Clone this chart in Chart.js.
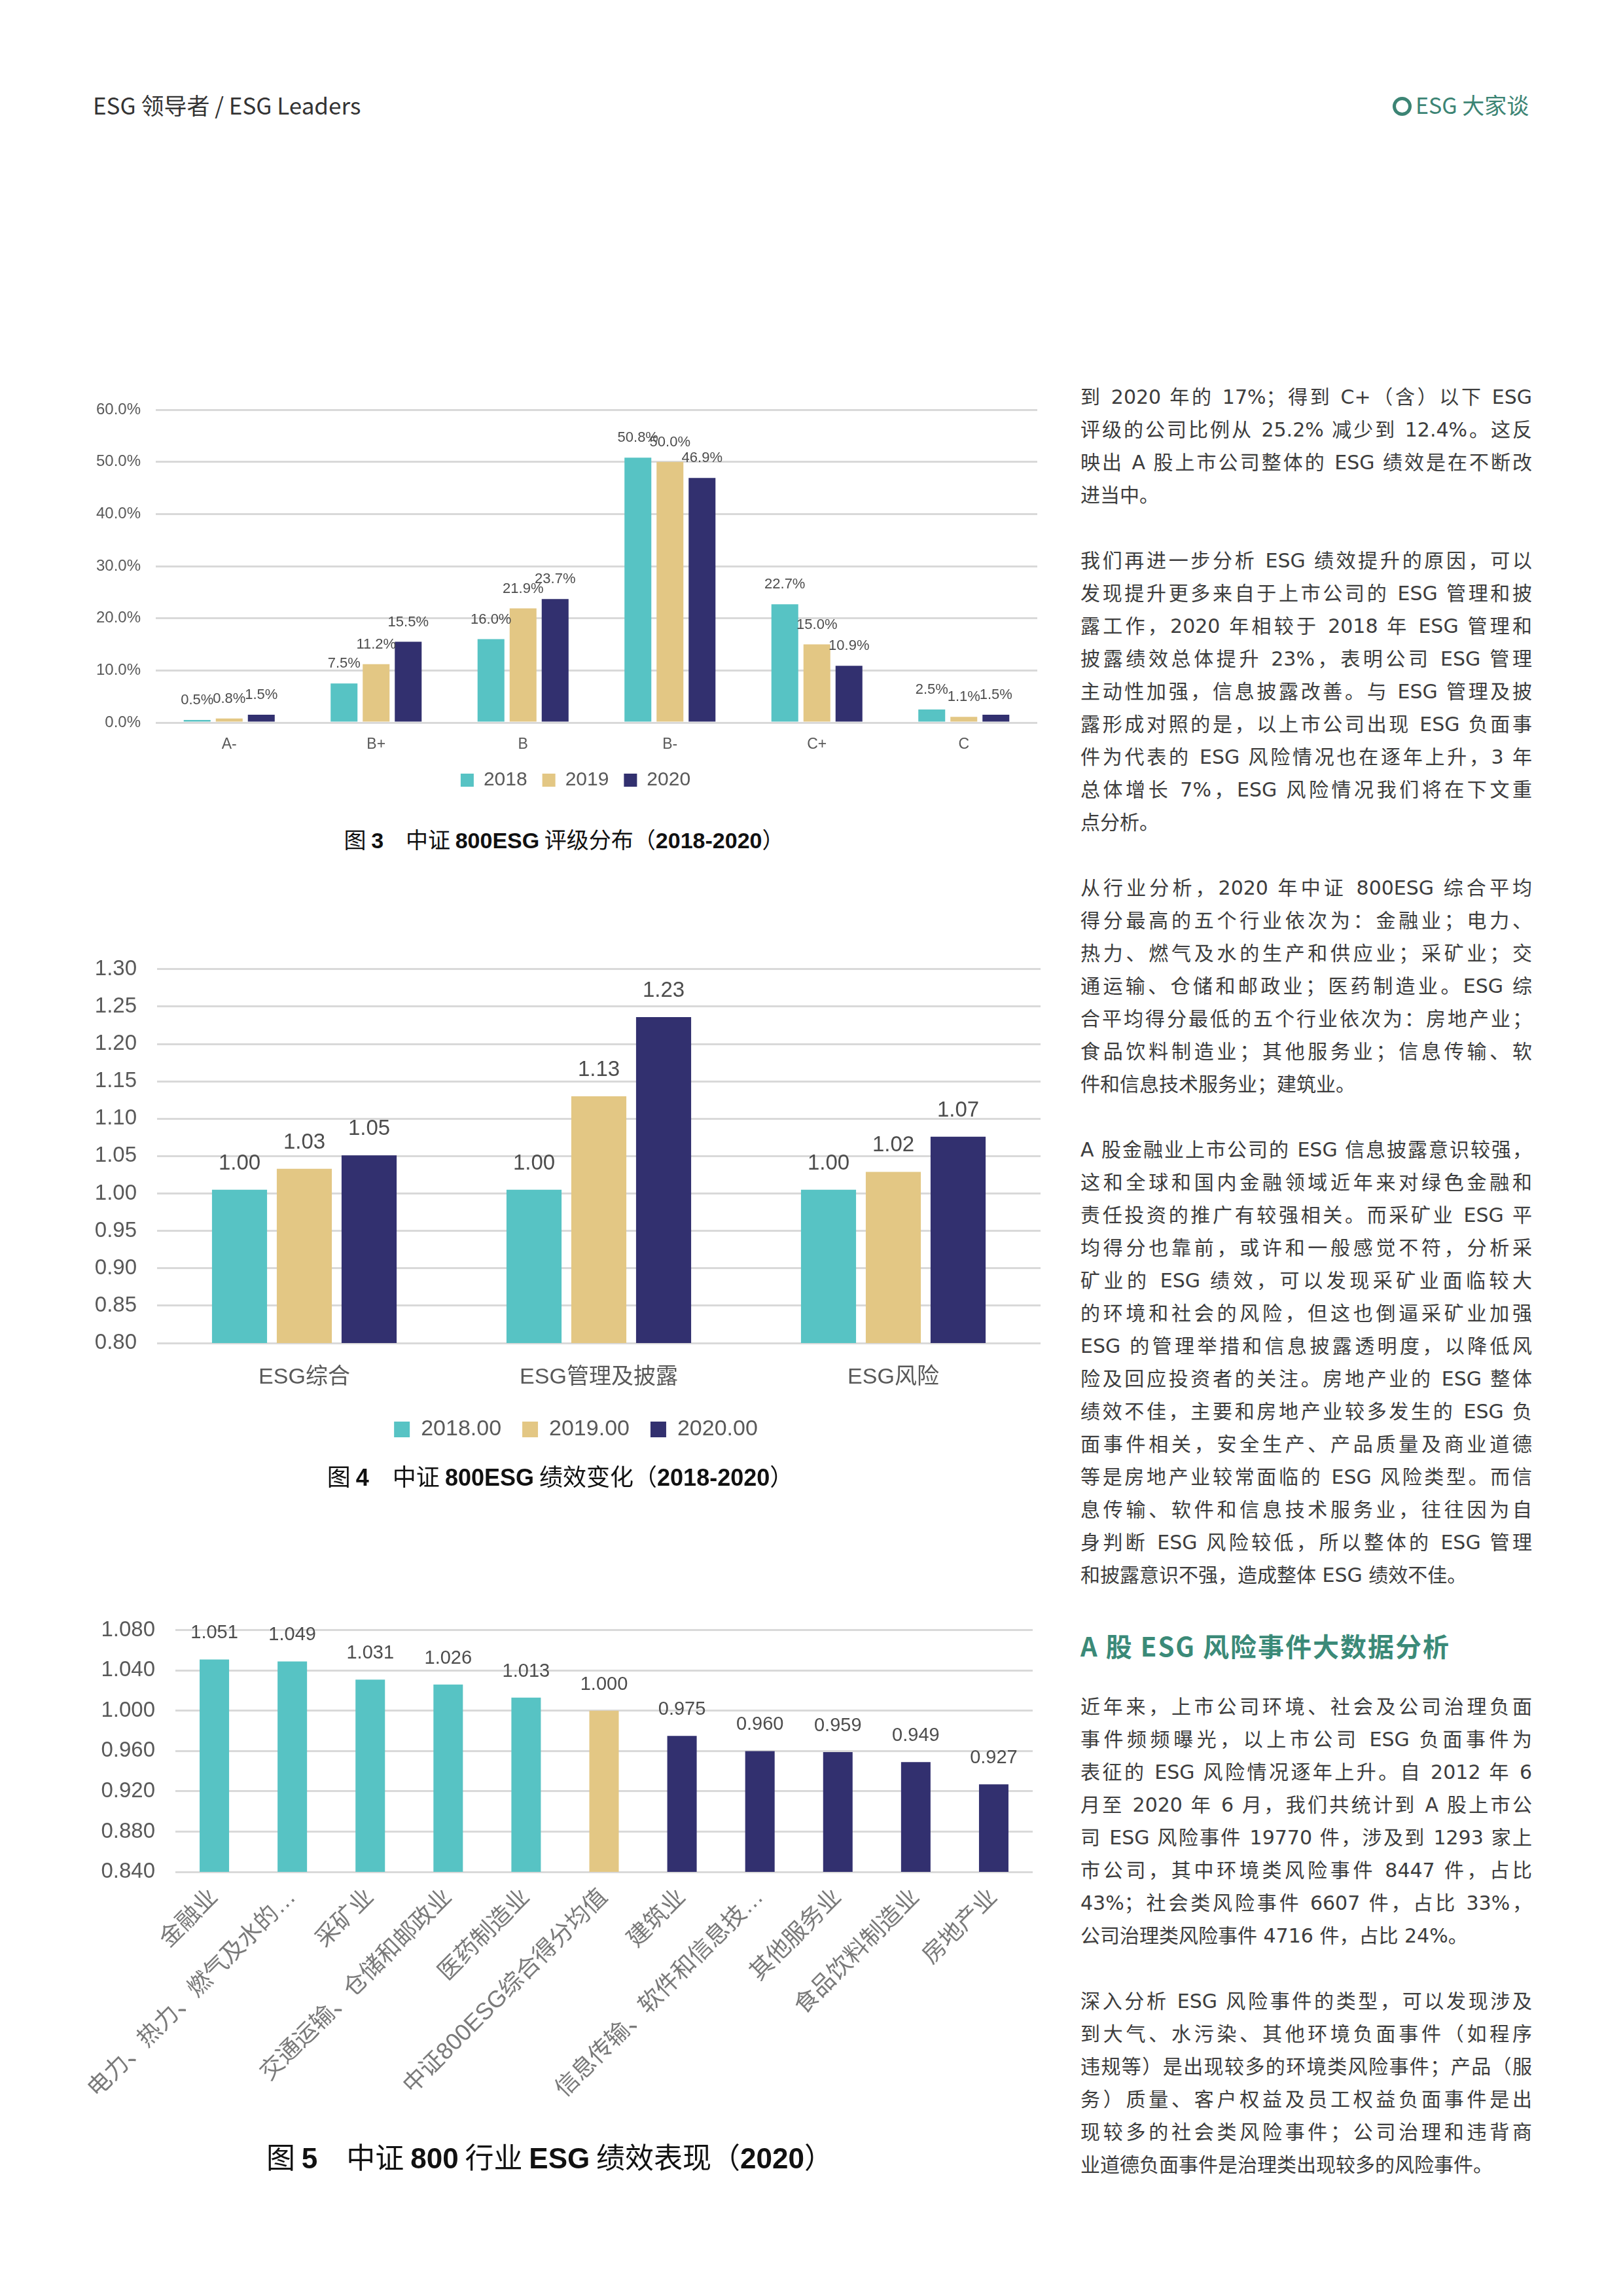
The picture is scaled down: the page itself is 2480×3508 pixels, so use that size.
<!DOCTYPE html>
<html lang="zh-CN">
<head>
<meta charset="utf-8">
<title>ESG 领导者 / ESG Leaders</title>
<script src="https://cdn.jsdelivr.net/npm/chart.js@4.4.0/dist/chart.umd.min.js"></script>
<style>
  html, body { margin: 0; padding: 0; background: #fff; }
  #page { position: relative; width: 2480px; height: 3508px; overflow: hidden; font-family: 'Noto Sans CJK SC', sans-serif; color: #3a3a3a; }
  canvas { position: absolute; }
  .hdr { position: absolute; top: 137px; font-size: 35px; line-height: 46px; white-space: nowrap; }
  .hdr.left { left: 142px; color: #333; }
  .hdr.right { left: 2128px; color: #3c8474; font-size: 34px; }
  .ring { display: inline-block; width: 19px; height: 19px; border: 5px solid #3c8474; border-radius: 50%; vertical-align: -3px; margin-right: 6px; }
  .cap { position: absolute; width: 1400px; text-align: center; color: #111; white-space: nowrap; }
  .cap b { font-family: 'Liberation Sans Narrow', 'Liberation Sans', sans-serif; font-weight: 700; }
  .para { position: absolute; left: 1651px; width: 690px; font-size: 30px; font-family: 'DejaVu Sans', 'Noto Sans CJK SC', sans-serif; color: #3d3d3d; }
  .para div { height: 50px; line-height: 50px; }
  .para .j { text-align: justify; text-align-last: justify; }
  .head { position: absolute; left: 1651px; top: 2486px; font-size: 40px; line-height: 56px; font-weight: 700; color: #3b8a78; letter-spacing: 2px; white-space: nowrap; }
</style>
</head>
<body>
<div id="page">
  <div class="hdr left">ESG 领导者 / ESG Leaders</div>
  <div class="hdr right"><span class="ring"></span>ESG 大家谈</div>

  <canvas id="gradeChart" style="left:130px; top:560px;" width="1455" height="680"></canvas>
  <div class="cap" style="left:162px; top:1258px; font-size:34px; line-height:48px;">图 <b>3</b>&emsp;中证 <b>800ESG</b> 评级分布（<b>2018-2020</b>）</div>

  <canvas id="scoreChart" style="left:130px; top:1430px;" width="1460" height="808"></canvas>
  <div class="cap" style="left:156px; top:2230px; font-size:36px; line-height:48px;">图 <b>4</b>&emsp;中证 <b>800ESG</b> 绩效变化（<b>2018-2020</b>）</div>

  <canvas id="industryChart" style="left:120px; top:2440px;" width="1480" height="830"></canvas>
  <div class="cap" style="left:140px; top:3264px; font-size:44px; line-height:60px;">图 <b>5</b>&emsp;中证 <b>800</b> 行业 <b>ESG</b> 绩效表现（<b>2020</b>）</div>

  <div class="para" style="top:582px;">
    <div class="j">到 2020 年的 17%；得到 C+（含）以下 ESG</div>
    <div class="j">评级的公司比例从 25.2% 减少到 12.4%。这反</div>
    <div class="j">映出 A 股上市公司整体的 ESG 绩效是在不断改</div>
    <div>进当中。</div>
  </div>
  <div class="para" style="top:832px;">
    <div class="j">我们再进一步分析 ESG 绩效提升的原因，可以</div>
    <div class="j">发现提升更多来自于上市公司的 ESG 管理和披</div>
    <div class="j">露工作，2020 年相较于 2018 年 ESG 管理和</div>
    <div class="j">披露绩效总体提升 23%，表明公司 ESG 管理</div>
    <div class="j">主动性加强，信息披露改善。与 ESG 管理及披</div>
    <div class="j">露形成对照的是，以上市公司出现 ESG 负面事</div>
    <div class="j">件为代表的 ESG 风险情况也在逐年上升，3 年</div>
    <div class="j">总体增长 7%，ESG 风险情况我们将在下文重</div>
    <div>点分析。</div>
  </div>
  <div class="para" style="top:1332px;">
    <div class="j">从行业分析，2020 年中证 800ESG 综合平均</div>
    <div class="j">得分最高的五个行业依次为：金融业；电力、</div>
    <div class="j">热力、燃气及水的生产和供应业；采矿业；交</div>
    <div class="j">通运输、仓储和邮政业；医药制造业。ESG 综</div>
    <div class="j">合平均得分最低的五个行业依次为：房地产业；</div>
    <div class="j">食品饮料制造业；其他服务业；信息传输、软</div>
    <div>件和信息技术服务业；建筑业。</div>
  </div>
  <div class="para" style="top:1732px;">
    <div class="j">A 股金融业上市公司的 ESG 信息披露意识较强，</div>
    <div class="j">这和全球和国内金融领域近年来对绿色金融和</div>
    <div class="j">责任投资的推广有较强相关。而采矿业 ESG 平</div>
    <div class="j">均得分也靠前，或许和一般感觉不符，分析采</div>
    <div class="j">矿业的 ESG 绩效，可以发现采矿业面临较大</div>
    <div class="j">的环境和社会的风险，但这也倒逼采矿业加强</div>
    <div class="j">ESG 的管理举措和信息披露透明度，以降低风</div>
    <div class="j">险及回应投资者的关注。房地产业的 ESG 整体</div>
    <div class="j">绩效不佳，主要和房地产业较多发生的 ESG 负</div>
    <div class="j">面事件相关，安全生产、产品质量及商业道德</div>
    <div class="j">等是房地产业较常面临的 ESG 风险类型。而信</div>
    <div class="j">息传输、软件和信息技术服务业，往往因为自</div>
    <div class="j">身判断 ESG 风险较低，所以整体的 ESG 管理</div>
    <div>和披露意识不强，造成整体 ESG 绩效不佳。</div>
  </div>
  <div class="head">A 股 ESG 风险事件大数据分析</div>
  <div class="para" style="top:2583px;">
    <div class="j">近年来，上市公司环境、社会及公司治理负面</div>
    <div class="j">事件频频曝光，以上市公司 ESG 负面事件为</div>
    <div class="j">表征的 ESG 风险情况逐年上升。自 2012 年 6</div>
    <div class="j">月至 2020 年 6 月，我们共统计到 A 股上市公</div>
    <div class="j">司 ESG 风险事件 19770 件，涉及到 1293 家上</div>
    <div class="j">市公司，其中环境类风险事件 8447 件，占比</div>
    <div class="j">43%；社会类风险事件 6607 件，占比 33%，</div>
    <div>公司治理类风险事件 4716 件，占比 24%。</div>
  </div>
  <div class="para" style="top:3033px;">
    <div class="j">深入分析 ESG 风险事件的类型，可以发现涉及</div>
    <div class="j">到大气、水污染、其他环境负面事件（如程序</div>
    <div class="j">违规等）是出现较多的环境类风险事件；产品（服</div>
    <div class="j">务）质量、客户权益及员工权益负面事件是出</div>
    <div class="j">现较多的社会类风险事件；公司治理和违背商</div>
    <div>业道德负面事件是治理类出现较多的风险事件。</div>
  </div>
</div>

<script>
// ---- 图3 评级分布 ----
const gradeLabels = ['A-', 'B+', 'B', 'B-', 'C+', 'C'];
const gradeYears = ['2018', '2019', '2020'];
const grade2018 = [0.5, 7.5, 16.0, 50.8, 22.7, 2.5];
const grade2019 = [0.8, 11.2, 21.9, 50.0, 15.0, 1.1];
const grade2020 = [1.5, 15.5, 23.7, 46.9, 10.9, 1.5];
const gradeTicks = [0, 10, 20, 30, 40, 50, 60];

// ---- 图4 绩效变化 ----
const scoreLabels = ['ESG综合', 'ESG管理及披露', 'ESG风险'];
const scoreYears = ['2018.00', '2019.00', '2020.00'];
const score2018 = [1.005, 1.005, 1.005];
const score2019 = [1.033, 1.130, 1.029];
const score2020 = [1.051, 1.236, 1.076];
const score2018Text = ['1.00', '1.00', '1.00'];
const score2019Text = ['1.03', '1.13', '1.02'];
const score2020Text = ['1.05', '1.23', '1.07'];
const scoreTicks = [0.80, 0.85, 0.90, 0.95, 1.00, 1.05, 1.10, 1.15, 1.20, 1.25, 1.30];

// ---- 图5 行业表现 ----
const industryLabels = ['金融业', '电力、热力、燃气及水的…', '采矿业', '交通运输、仓储和邮政业', '医药制造业',
  '中证800ESG综合得分均值', '建筑业', '信息传输、软件和信息技…', '其他服务业', '食品饮料制造业', '房地产业'];
const industryScores = [1.051, 1.049, 1.031, 1.026, 1.013, 1.000, 0.975, 0.960, 0.959, 0.949, 0.927];
const industryGroup = ['top', 'top', 'top', 'top', 'top', 'avg', 'low', 'low', 'low', 'low', 'low'];
const industryTicks = [0.840, 0.880, 0.920, 0.960, 1.000, 1.040, 1.080];

// 样式
const FONT = "'Liberation Sans', 'Noto Sans CJK SC', sans-serif";
const TEAL = '#57c3c4', GOLD = '#e3c784', NAVY = '#32306f';
const GRID = '#d9d9d9', TICK = '#595959', VALUE = '#4d4d4d';
const groupColor = { top: TEAL, avg: GOLD, low: NAVY };

// 数值标签插件
const valueLabels = {
    id: 'valueLabels',
    afterDatasetsDraw(chart, args, opts) {
        const ctx = chart.ctx;
        ctx.save();
        ctx.font = `${opts.size}px ${FONT}`;
        ctx.fillStyle = VALUE;
        ctx.textAlign = 'center';
        ctx.textBaseline = 'middle';
        chart.data.datasets.forEach((ds, i) => {
            chart.getDatasetMeta(i).data.forEach((bar, j) => {
                ctx.fillText(ds.valueText[j], bar.x, bar.y - opts.offset);
            });
        });
        ctx.restore();
    }
};

// 图例水平微调
const legendShift = {
    id: 'legendShift',
    afterLayout(chart, args, opts) {
        const lg = chart.legend;
        if (lg && opts.dx) {
            lg.left += opts.dx;
            lg.right += opts.dx;
        }
    }
};

function fixedTicks(values) {
    return axis => { axis.ticks = values.map(v => ({ value: v })); };
}

function yAxis(min, max, ticks, size, padding, width, digits, suffix) {
    return {
        min: min,
        max: max,
        afterBuildTicks: fixedTicks(ticks),
        grid: { color: GRID, lineWidth: 3, drawTicks: false },
        border: { display: false },
        ticks: {
            font: { family: FONT, size: size },
            color: TICK,
            padding: padding,
            callback: v => v.toFixed(digits) + suffix
        },
        afterFit: s => { s.width = width; }
    };
}

// 图3
new Chart(document.getElementById('gradeChart'), {
    type: 'bar',
    data: {
        labels: gradeLabels,
        datasets: [grade2018, grade2019, grade2020].map((d, i) => ({
            label: gradeYears[i],
            data: d,
            valueText: d.map(v => v.toFixed(1) + '%'),
            backgroundColor: [TEAL, GOLD, NAVY][i],
            categoryPercentage: 0.655,
            barPercentage: 0.837
        }))
    },
    options: {
        responsive: false,
        animation: false,
        devicePixelRatio: 1,
        layout: { padding: { left: 0, right: 0, top: 66, bottom: 23 } },
        scales: {
            x: {
                grid: { display: false },
                border: { display: false },
                ticks: { font: { family: FONT, size: 23 }, color: TICK, padding: 12 },
                afterFit: s => { s.height = 50; }
            },
            y: yAxis(0, 60, gradeTicks, 24, 23, 108, 1, '%')
        },
        plugins: {
            legend: {
                position: 'bottom',
                labels: { font: { family: FONT, size: 30 }, color: TICK, boxWidth: 20, boxHeight: 20, padding: 23 }
            },
            legendShift: { dx: 22 },
            tooltip: { enabled: false },
            valueLabels: { size: 22, offset: 30 }
        }
    },
    plugins: [valueLabels, legendShift]
});

// 图4
new Chart(document.getElementById('scoreChart'), {
    type: 'bar',
    data: {
        labels: scoreLabels,
        datasets: [score2018, score2019, score2020].map((d, i) => ({
            label: scoreYears[i],
            data: d,
            valueText: [score2018Text, score2019Text, score2020Text][i],
            backgroundColor: [TEAL, GOLD, NAVY][i],
            categoryPercentage: 0.66,
            barPercentage: 0.85
        }))
    },
    options: {
        responsive: false,
        animation: false,
        devicePixelRatio: 1,
        layout: { padding: { left: 0, right: 0, top: 50, bottom: 27 } },
        scales: {
            x: {
                grid: { display: false },
                border: { display: false },
                ticks: { font: { family: FONT, size: 34 }, color: TICK, padding: 24 },
                afterFit: s => { s.height = 83; }
            },
            y: yAxis(0.80, 1.30, scoreTicks, 33, 31, 110, 2, '')
        },
        plugins: {
            legend: {
                position: 'bottom',
                labels: { font: { family: FONT, size: 34 }, color: TICK, boxWidth: 24, boxHeight: 24, padding: 32 }
            },
            legendShift: { dx: 20 },
            tooltip: { enabled: false },
            valueLabels: { size: 33, offset: 40 }
        }
    },
    plugins: [valueLabels, legendShift]
});

// 图5
new Chart(document.getElementById('industryChart'), {
    type: 'bar',
    data: {
        labels: industryLabels,
        datasets: [{
            label: '2020',
            data: industryScores,
            valueText: industryScores.map(v => v.toFixed(3)),
            backgroundColor: industryGroup.map(g => groupColor[g]),
            categoryPercentage: 1,
            barPercentage: 0.378
        }]
    },
    options: {
        responsive: false,
        animation: false,
        devicePixelRatio: 1,
        layout: { padding: { left: 0, right: 22, top: 48, bottom: 10 } },
        scales: {
            x: {
                grid: { display: false },
                border: { display: false },
                ticks: {
                    font: { family: FONT, size: 36 },
                    color: '#7a7a7a',
                    padding: 10,
                    autoSkip: false,
                    minRotation: 45,
                    maxRotation: 45
                },
                afterFit: s => { s.height = 400; }
            },
            y: yAxis(0.84, 1.08, industryTicks, 33, 31, 148, 3, '')
        },
        plugins: {
            legend: { display: false },
            tooltip: { enabled: false },
            valueLabels: { size: 29, offset: 40 }
        }
    },
    plugins: [valueLabels]
});
</script>
</body>
</html>
